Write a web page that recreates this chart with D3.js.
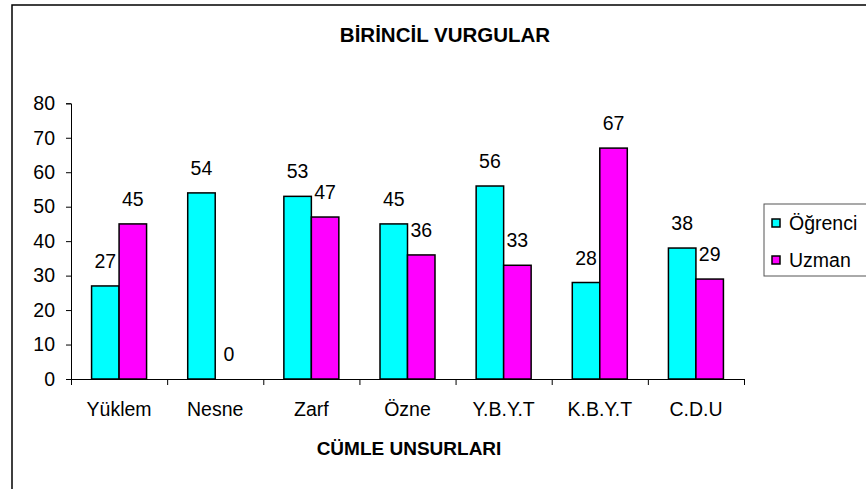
<!DOCTYPE html>
<html>
<head>
<meta charset="utf-8">
<script src="https://cdn.jsdelivr.net/npm/d3@7"></script>
<style>
  html, body { margin: 0; padding: 0; background: #fff; overflow: hidden; }
  text { font-family: "Liberation Sans", Arial, sans-serif; }
</style>
</head>
<body>
<div id="chart"></div>
<script>
// values
const categories = ["Yüklem", "Nesne", "Zarf", "Özne", "Y.B.Y.T", "K.B.Y.T", "C.D.U"];
const seriesNames = ["Öğrenci", "Uzman"];
const ogrenci = [27, 54, 53, 45, 56, 28, 38];
const uzman = [45, 0, 47, 36, 33, 67, 29];
const yTicks = [0, 10, 20, 30, 40, 50, 60, 70, 80];
const colors = ["#00ffff", "#ff00ff"];

const width = 866, height = 489;
const plot = { left: 71, right: 744, top: 103.3, bottom: 379 };
const fontFam = '"Liberation Sans", Arial, sans-serif';
const fs = 19.5;

const svg = d3.select("#chart").append("svg")
  .attr("width", width)
  .attr("height", height);

// outer frame (cut by the picture on the right and bottom)
svg.append("rect")
  .attr("x", 12).attr("y", 5)
  .attr("width", 900).attr("height", 520)
  .attr("fill", "none")
  .attr("stroke", "#000")
  .attr("stroke-width", 1.5);

const x = d3.scaleBand().domain(categories).range([plot.left, plot.right]);
const bw = x.bandwidth();
const x1 = d3.scaleBand().domain(seriesNames).range([bw * 0.214, bw * 0.786]);
const y = d3.scaleLinear().domain([0, 80]).range([plot.bottom, plot.top]);

const rows = categories.map((c, i) => ({ cat: c, values: [ogrenci[i], uzman[i]] }));

// y axis
const yAxis = svg.append("g")
  .attr("transform", `translate(${plot.left},0)`)
  .call(d3.axisLeft(y).tickValues(yTicks).tickSize(5).tickPadding(11));
yAxis.selectAll("text").attr("font-size", fs).attr("fill", "#000").style("font-family", fontFam);
yAxis.selectAll("line, path").attr("stroke", "#000");

// x axis: boundary ticks
const xb = d3.scaleLinear().domain([0, categories.length]).range([plot.left, plot.right]);
const xAxis = svg.append("g")
  .attr("transform", `translate(0,${plot.bottom})`)
  .call(d3.axisBottom(xb).tickValues(d3.range(categories.length + 1)).tickSize(6).tickFormat(""));
xAxis.selectAll("line, path").attr("stroke", "#000");

// category labels
const xLab = svg.append("g")
  .attr("transform", `translate(0,${plot.bottom})`)
  .call(d3.axisBottom(x).tickSize(0).tickPadding(23));
xLab.select(".domain").remove();
xLab.selectAll("text").attr("font-size", fs).attr("fill", "#000").style("font-family", fontFam);

// bars
const groups = svg.selectAll("g.grp")
  .data(rows)
  .join("g")
  .attr("class", "grp")
  .attr("transform", d => `translate(${x(d.cat)},0)`);

groups.selectAll("rect")
  .data(d => d.values.map((v, j) => ({ name: seriesNames[j], v: v, j: j })))
  .join("rect")
  .filter(d => d.v > 0)
  .attr("x", d => x1(d.name))
  .attr("y", d => y(d.v))
  .attr("width", x1.bandwidth())
  .attr("height", d => y(0) - y(d.v))
  .attr("fill", d => colors[d.j])
  .attr("stroke", "#000")
  .attr("stroke-width", 1.5);

groups.selectAll("text")
  .data(d => d.values.map((v, j) => ({ name: seriesNames[j], v: v, j: j })))
  .join("text")
  .attr("x", d => x1(d.name) + x1.bandwidth() / 2)
  .attr("y", d => y(d.v) - 18)
  .attr("text-anchor", "middle")
  .attr("font-size", fs)
  .text(d => d.v);

// titles
svg.append("text")
  .attr("x", 445).attr("y", 42)
  .attr("text-anchor", "middle")
  .attr("font-size", 20.5)
  .attr("font-weight", "bold")
  .text("BİRİNCİL VURGULAR");

svg.append("text")
  .attr("x", 409).attr("y", 455)
  .attr("text-anchor", "middle")
  .attr("font-size", 19)
  .attr("font-weight", "bold")
  .text("CÜMLE UNSURLARI");

// legend
const legend = svg.append("g");
legend.append("rect")
  .attr("x", 764).attr("y", 204)
  .attr("width", 140).attr("height", 72)
  .attr("fill", "#fff")
  .attr("stroke", "#555")
  .attr("stroke-width", 1);

const legY = d3.scalePoint().domain(seriesNames).range([223, 260]);
const items = legend.selectAll("g.item")
  .data(seriesNames)
  .join("g")
  .attr("class", "item")
  .attr("transform", d => `translate(0,${legY(d)})`);
items.append("rect")
  .attr("x", 772).attr("y", -4)
  .attr("width", 8).attr("height", 8)
  .attr("fill", (d, i) => colors[i])
  .attr("stroke", "#000")
  .attr("stroke-width", 1.5);
items.append("text")
  .attr("x", 789).attr("y", 7)
  .attr("font-size", fs)
  .text(d => d);
</script>
</body>
</html>
